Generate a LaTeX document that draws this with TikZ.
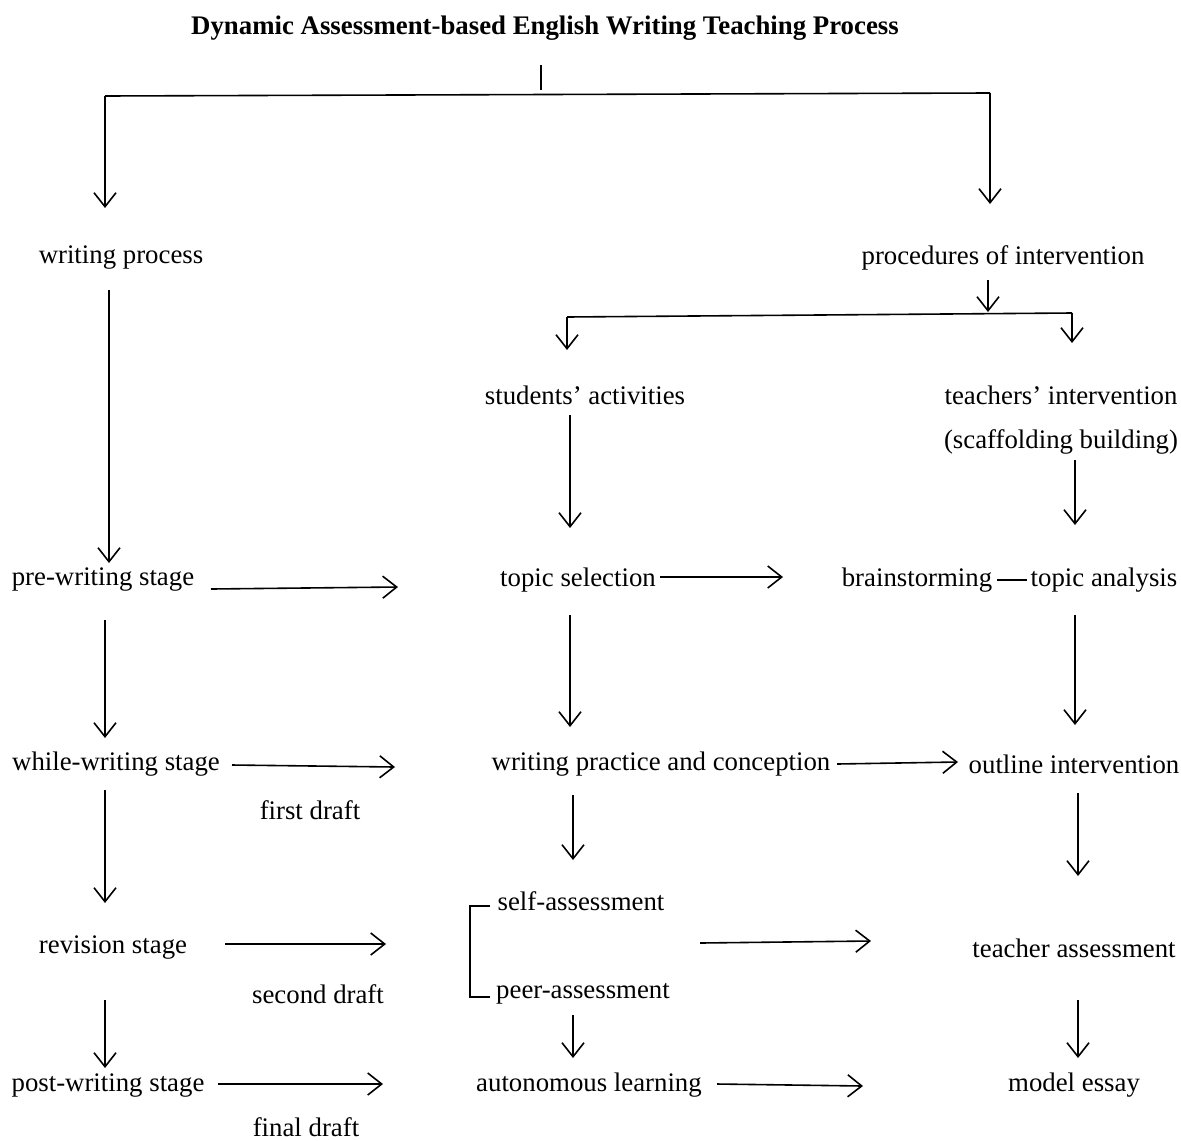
\documentclass[tikz,border=0pt]{standalone}
\usepackage{fontspec}
\setmainfont{Liberation Serif}
\usetikzlibrary{arrows.meta}
\begin{document}
\begin{tikzpicture}[x=0.5pt,y=-0.5pt,
  lbl/.style={inner sep=0pt,font=\fontsize{13.4}{15}\selectfont},
  arr/.style={line width=0.8pt,-{Straight Barb[length=7pt,width=11pt,line width=0.8pt]}},
  ln/.style={line width=0.8pt}]
\useasboundingbox (0,0) rectangle (1181,1140);
% title
\node[lbl,font=\bfseries\fontsize{13.4}{15}\selectfont] (title) at (545,28) {Dynamic Assessment-based English Writing Teaching Process};
\coordinate (stubtop) at (541,65);
\coordinate (stubbot) at (541,90);
\draw[ln] (stubtop) -- (stubbot);
\coordinate (hl) at (105,96);
\coordinate (hr) at (990,93);
\draw[ln] (hl) -- (hr);
% column heads
\node[lbl] (wp) at (121,258) {writing process};
\node[lbl] (pi) at (1003,258) {procedures of intervention};
\draw[arr] (hl) -- (105,208);
\draw[arr] (hr) -- (990,204);
\draw[arr] (109,290) -- (109,563);
% intervention split
\draw[arr] (988,280) -- (988,312);
\coordinate (sl) at (567,317);
\coordinate (sr) at (1072,313);
\draw[ln] (sl) -- (sr);
\draw[arr] (sl) -- (567,350);
\draw[arr] (sr) -- (1072,343);
\node[lbl] (sa) at (585,395) {students’ activities};
\node[lbl] (ti) at (1061,395) {teachers’ intervention};
\node[lbl] (sb) at (1061,442) {(scaffolding building)};
\draw[arr] (570,415) -- (570,528);
\draw[arr] (1075,460) -- (1075,525);
% pre-writing row
\node[lbl] (pre) at (103,580) {pre-writing stage};
\node[lbl] (ts) at (578,580) {topic selection};
\node[lbl] (bs) at (917,580) {brainstorming};
\node[lbl] (ta) at (1104,580) {topic analysis};
\draw[line width=1.2pt] (997,580) -- (1027,580);
\draw[arr] (211,589) -- (398,587);
\draw[arr] (660,577) -- (783,577);
\draw[arr] (105,620) -- (105,738);
\draw[arr] (570,615) -- (570,727);
\draw[arr] (1075,615) -- (1075,725);
% while-writing row
\node[lbl] (ws) at (116,764) {while-writing stage};
\node[lbl] (wpc) at (661,764) {writing practice and conception};
\node[lbl] (oi) at (1074,764) {outline intervention};
\node[lbl] (fd) at (310,810) {first draft};
\draw[arr] (232,765) -- (395,767);
\draw[arr] (837,764) -- (958,762);
\draw[arr] (105,790) -- (105,903);
\draw[arr] (573,795) -- (573,860);
\draw[arr] (1078,793) -- (1078,876);
% revision row
\node[lbl] (self) at (581,901) {self-assessment};
\node[lbl] (peer) at (583,994) {peer-assessment};
\draw[ln] (490,906) -- (470,906) -- (470,997) -- (490,997);
\node[lbl] (rs) at (113,948) {revision stage};
\node[lbl] (sd) at (318,994) {second draft};
\node[lbl] (tas) at (1074,948) {teacher assessment};
\draw[arr] (225,944) -- (386,944);
\draw[arr] (700,943) -- (871,941);
\draw[arr] (105,1000) -- (105,1068);
\draw[arr] (573,1015) -- (573,1058);
\draw[arr] (1078,1000) -- (1078,1058);
% post-writing row
\node[lbl] (pw) at (108,1085) {post-writing stage};
\node[lbl] (al) at (589,1085) {autonomous learning};
\node[lbl] (me) at (1074,1085) {model essay};
\node[lbl] (fin) at (306,1127) {final draft};
\draw[arr] (218,1084) -- (383,1084);
\draw[arr] (717,1084) -- (863,1086);
\end{tikzpicture}
\end{document}
